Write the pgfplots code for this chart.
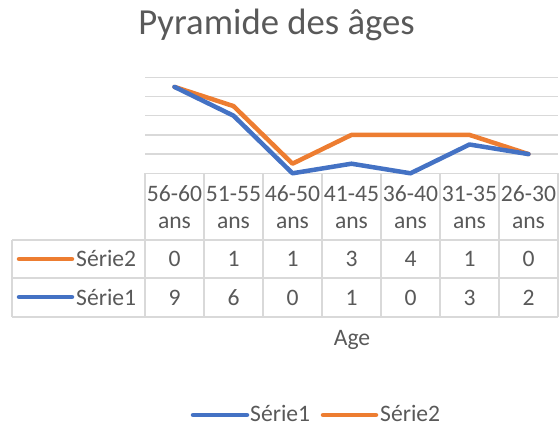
\documentclass[border=0pt]{standalone}
\usepackage{pgfplots}
\pgfplotsset{compat=1.18}
\usepackage{fontspec}
\setmainfont{Carlito}
\definecolor{s1}{HTML}{4472C4}
\definecolor{s2}{HTML}{ED7D31}
\definecolor{txt}{HTML}{595959}
\definecolor{grd}{HTML}{D9D9D9}
\begin{document}
\fontsize{23.6}{28}\selectfont
\begin{tikzpicture}
\path[use as bounding box] (0pt,0pt) rectangle (559pt,-425pt);
\begin{scope}[x=1pt,y=-1pt]
  % data table borders
  \draw[grd, line width=1.3pt] (145,173.3) -- (558,173.3);
  \foreach \yy in {240,278,317} {\draw[grd, line width=1.3pt] (12,\yy) -- (558,\yy);}
  \draw[grd, line width=1.3pt] (12,240) -- (12,317);
  \foreach \xx in {145,204,263,322,381,440,499,558} {\draw[grd, line width=1.3pt] (\xx,173.3) -- (\xx,317);}
  % header
  \foreach \i/\lab in {0/56-60,1/51-55,2/46-50,3/41-45,4/36-40,5/31-35,6/26-30} {
    \node[anchor=base, inner sep=0pt, text=txt] at (174.5+59*\i, 201.5) {\lab};
    \node[anchor=base, inner sep=0pt, text=txt] at (174.5+59*\i, 228) {ans};
  }
  % values
  \foreach \i/\v in {0/0,1/1,2/1,3/3,4/4,5/1,6/0} {
    \node[anchor=base, inner sep=0pt, text=txt] at (174.5+59*\i, 266.6) {\v};
  }
  \foreach \i/\v in {0/9,1/6,2/0,3/1,4/0,5/3,6/2} {
    \node[anchor=base, inner sep=0pt, text=txt] at (174.5+59*\i, 305) {\v};
  }
  % row labels
  \draw[s2, line width=4.5pt, line cap=round] (19,259) -- (72,259);
  \node[anchor=base west, inner sep=0pt, text=txt] at (76,266.6) {Série2};
  \draw[s1, line width=4.5pt, line cap=round] (19,297) -- (72,297);
  \node[anchor=base west, inner sep=0pt, text=txt] at (76,305) {Série1};
  % title
  \node[anchor=base, inner sep=0pt, text=txt, font=\fontsize{36.7}{40}\selectfont] at (276.5,35) {Pyramide des âges};
  % axis title
  \node[anchor=base, inner sep=0pt, text=txt] at (352,345) {Age};
  % legend
  \draw[s1, line width=4.5pt, line cap=round] (193,415) -- (247,415);
  \node[anchor=base west, inner sep=0pt, text=txt] at (250,421) {Série1};
  \draw[s2, line width=4.5pt, line cap=round] (323,415) -- (376,415);
  \node[anchor=base west, inner sep=0pt, text=txt] at (380,421) {Série2};
\end{scope}
\begin{axis}[
  at={(145pt,-173.3pt)}, anchor=south west,
  width=413pt, height=96pt, scale only axis,
  xmin=-0.5, xmax=6.5, ymin=0, ymax=10,
  ytick={0,2,4,6,8,10}, yticklabels={}, xtick=\empty,
  ymajorgrids, grid style={grd, line width=1.3pt},
  axis line style={draw=none}, major tick style={draw=none},
  stack plots=y, clip=false]
\addplot[s1, line width=4.5pt, line join=round, line cap=round] coordinates {(0,9)(1,6)(2,0)(3,1)(4,0)(5,3)(6,2)};
\addplot[s2, line width=4.5pt, line join=round, line cap=round] coordinates {(0,0)(1,1)(2,1)(3,3)(4,4)(5,1)(6,0)};
\end{axis}
\end{tikzpicture}
\end{document}
